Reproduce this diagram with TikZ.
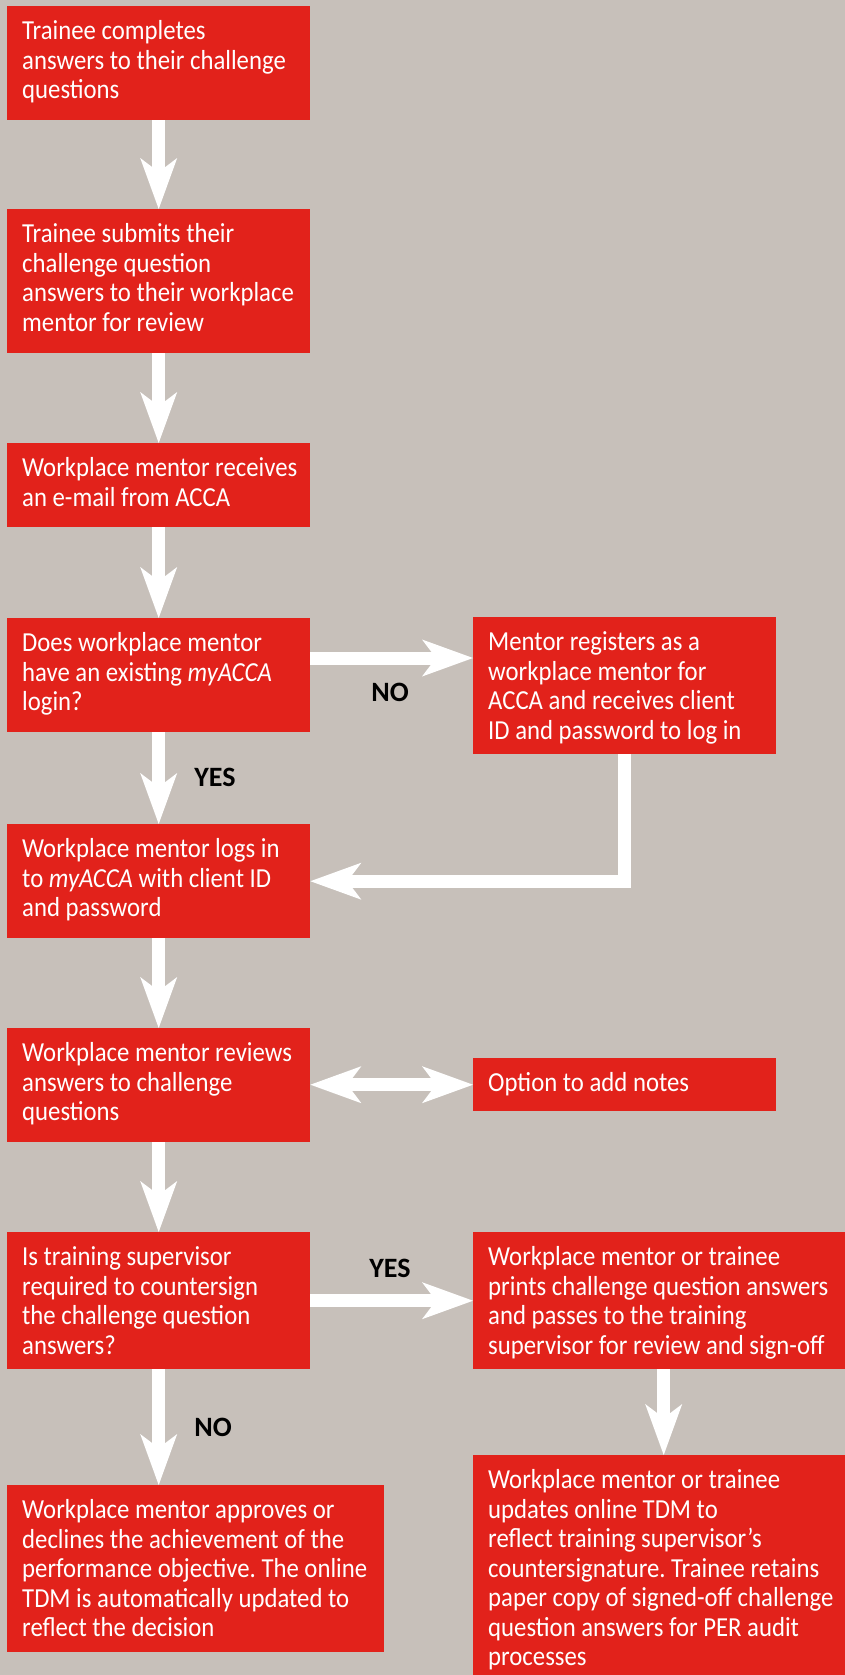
\documentclass[tikz,border=0pt]{standalone}
\usepackage{fontspec}
\setmainfont{Carlito}[FakeStretch=0.9]
\newfontfamily\labfont{Carlito}
\usetikzlibrary{arrows.meta}
\frenchspacing
\definecolor{bgc}{RGB}{199,192,186}
\definecolor{accared}{RGB}{226,34,27}
\newcommand\bxt[3]{\parbox[c][#1][t]{#2}{\raggedright\rule{0pt}{33.5pt}\ignorespaces#3}}
\tikzset{
  box/.style={fill=accared, text=white, anchor=north west, inner xsep=15pt, inner ysep=0pt,
    font=\fontsize{27.5pt}{29.5pt}\selectfont},
  lab/.style={text=black, inner sep=0pt, font=\labfont\bfseries\fontsize{28pt}{30pt}\selectfont},
  arr/.style={draw=white, line width=13pt, line join=miter},
  >={Stealth[length=51pt, width=37pt, inset=14pt, line width=0pt]}
}
\begin{document}
\begin{tikzpicture}[x=1pt, y=-1pt]
\useasboundingbox (0,0) rectangle (845,1675);
\clip (0,0) rectangle (845,1675);
\fill[bgc] (0,0) rectangle (845,1675);

\node[box] (b1) at (7,6) {\bxt{114pt}{273pt}{\mbox{Trainee completes}\\\mbox{answers to their challenge}\\\mbox{questions}}};
\node[box] (b2) at (7,209) {\bxt{144pt}{273pt}{\mbox{Trainee submits their}\\\mbox{challenge question}\\\mbox{answers to their workplace}\\\mbox{mentor for review}}};
\node[box] (b3) at (7,443) {\bxt{84pt}{273pt}{\mbox{Workplace mentor receives}\\\mbox{an e-mail from ACCA}}};
\node[box] (b4) at (7,618) {\bxt{114pt}{273pt}{\mbox{Does workplace mentor}\\\mbox{have an existing \textit{myACCA}}\\\mbox{login?}}};
\node[box] (b5) at (473,617) {\bxt{137pt}{273pt}{\mbox{Mentor registers as a}\\\mbox{workplace mentor for}\\\mbox{ACCA and receives client}\\\mbox{ID and password to log in}}};
\node[box] (b6) at (7,824) {\bxt{114pt}{273pt}{\mbox{Workplace mentor logs in}\\\mbox{to \textit{myACCA} with client ID}\\\mbox{and password}}};
\node[box] (b7) at (7,1028) {\bxt{114pt}{273pt}{\mbox{Workplace mentor reviews}\\\mbox{answers to challenge}\\\mbox{questions}}};
\node[box] (b8) at (473,1058) {\bxt{53pt}{273pt}{\mbox{Option to add notes}}};
\node[box] (b9) at (7,1232) {\bxt{137pt}{273pt}{\mbox{Is training supervisor}\\\mbox{required to countersign}\\\mbox{the challenge question}\\\mbox{answers?}}};
\node[box] (b10) at (473,1232) {\bxt{137pt}{342pt}{\mbox{Workplace mentor or trainee}\\\mbox{prints challenge question answers}\\\mbox{and passes to the training}\\\mbox{supervisor for review and sign-off}}};
\node[box] (b11) at (7,1485) {\bxt{167pt}{347pt}{\mbox{Workplace mentor approves or}\\\mbox{declines the achievement of the}\\\mbox{performance objective. The online}\\\mbox{TDM is automatically updated to}\\\mbox{reflect the decision}}};
\node[box] (b12) at (473,1455) {\bxt{240pt}{342pt}{\mbox{Workplace mentor or trainee}\\\mbox{updates online TDM to}\\\mbox{reflect training supervisor’s}\\\mbox{countersignature. Trainee retains}\\\mbox{paper copy of signed-off challenge}\\\mbox{question answers for PER audit}\\\mbox{processes}}};

\draw[arr,->] (b1.south) -- (b2.north);
\draw[arr,->] (b2.south) -- (b3.north);
\draw[arr,->] (b3.south) -- (b4.north);
\draw[arr,->] ([yshift=-40pt]b4.north east) -- ([yshift=-40pt]b4.north east -| b5.west);
\draw[arr,->] (b4.south) -- (b6.north);
\draw[arr,->] (b5.south) |- (b6.east);
\draw[arr,->] (b6.south) -- (b7.north);
\draw[arr,<->] (b7.east |- b8.west) -- (b8.west);
\draw[arr,->] (b7.south) -- (b9.north);
\draw[arr,->] (b9.east) -- (b10.west);
\draw[arr,->] (b9.south) -- (b9.south |- b11.north);
\draw[arr,->] ([xshift=4.5pt]b10.south) -- ([xshift=4.5pt]b10.south |- b12.north);

\node[lab] (l1) at (390,692) {NO};
\node[lab] (l2) at (215,777) {YES};
\node[lab] (l3) at (390,1268) {YES};
\node[lab] (l4) at (213,1427) {NO};
\end{tikzpicture}
\end{document}
